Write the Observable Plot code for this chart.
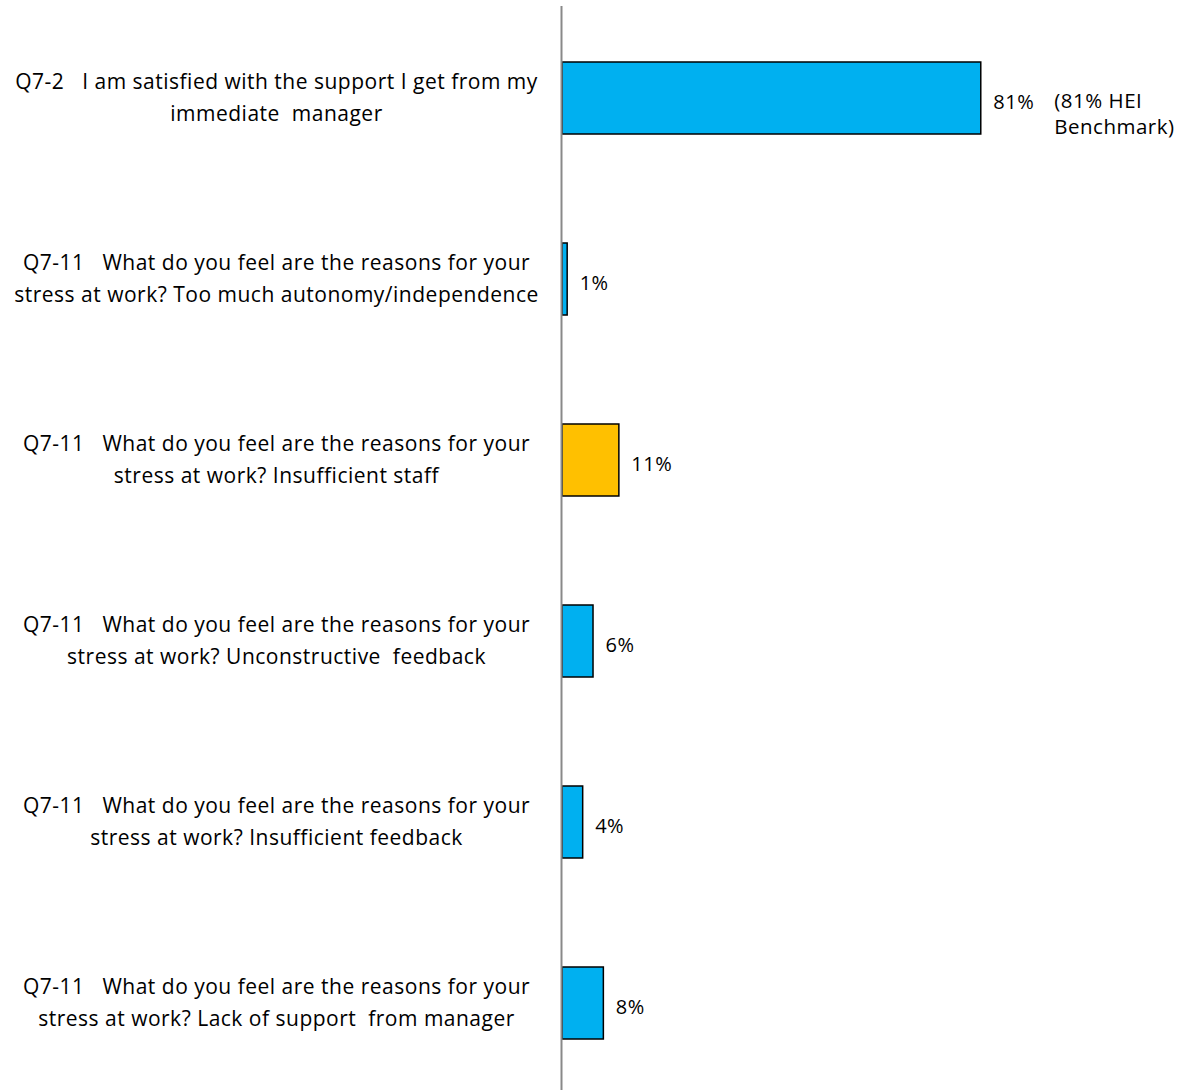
<!DOCTYPE html>
<html><head><meta charset="utf-8">
<script src="https://cdn.jsdelivr.net/npm/d3@7"></script>
<script src="https://cdn.jsdelivr.net/npm/@observablehq/plot@0.6"></script>
<style>body{margin:0;background:#fff} svg text{letter-spacing:0.5px}</style>
</head><body><div id="chart"></div>
<script>
const questions = [
  "Q7-2   I am satisfied with the support I get from my\nimmediate  manager",
  "Q7-11   What do you feel are the reasons for your\nstress at work? Too much autonomy/independence",
  "Q7-11   What do you feel are the reasons for your\nstress at work? Insufficient staff",
  "Q7-11   What do you feel are the reasons for your\nstress at work? Unconstructive  feedback",
  "Q7-11   What do you feel are the reasons for your\nstress at work? Insufficient feedback",
  "Q7-11   What do you feel are the reasons for your\nstress at work? Lack of support  from manager"
];
const values = [81, 1, 11, 6, 4, 8];
const colors = ["#00B0F0", "#00B0F0", "#FFC000", "#00B0F0", "#00B0F0", "#00B0F0"];
const benchmarks = ["(81% HEI\nBenchmark)", "", "", "", "", ""];

const data = questions.map((q, i) => ({q, v: values[i], c: colors[i], b: benchmarks[i]}));

const chart = Plot.plot({
  width: 1187,
  height: 1090,
  marginLeft: 562,
  marginRight: 108,
  marginTop: 6,
  marginBottom: -6,
  style: {fontFamily: "'Open Sans', sans-serif", fontSize: "21px", color: "#000", background: "#fff", overflow: "hidden"},
  x: {domain: [0, 100], axis: null},
  y: {domain: questions, axis: null, paddingInner: 0.6, paddingOuter: 0.3},
  marks: [
    Plot.barX(data, {x: "v", y: "q", fill: "c", stroke: "#000", strokeWidth: 1.5}),
    Plot.text(data, {x: "v", y: "q", text: d => d.v + "%", textAnchor: "start", dx: 12, dy: 4, fontSize: 20, fill: "#000"}),
    Plot.text(data.filter(d => d.b), {x: "v", y: "q", text: "b", textAnchor: "start", dx: 73, dy: 14, lineHeight: 1.3, fontSize: 20.5, fill: "#000"}),
    Plot.text(data, {x: 0, y: "q", text: "q", textAnchor: "middle", dx: -286, dy: -4, lineHeight: 1.52, fontSize: 21, fill: "#000"}),
    Plot.ruleX([0], {stroke: "#898989", strokeWidth: 2, dx: -1})
  ]
});
document.getElementById("chart").appendChild(chart);
</script>
</body></html>
